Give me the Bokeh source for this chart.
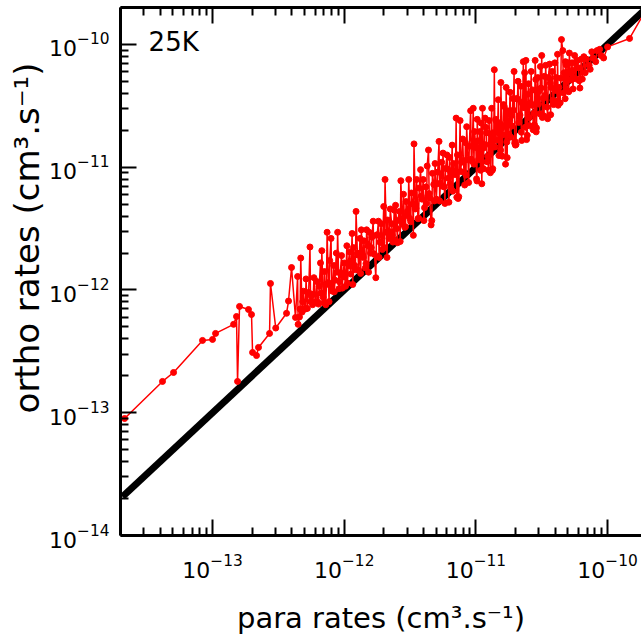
import numpy as np
from bokeh.plotting import figure
from bokeh.models import Range1d, FixedTicker, LogAxis, Label, Title, CustomJSTickFormatter
from bokeh.embed import file_html
from bokeh.resources import INLINE

# ---- data (log10 of rates) ----
para_sparse = [-13.668, -13.380, -13.296, -13.076, -13.000, -12.977, -12.840, -12.818,
               -12.810, -12.795, -12.727, -12.704, -12.696, -12.666, -12.651, -12.567,
               -12.560, -12.520, -12.438, -12.423, -12.400, -12.370, -12.354, -12.350]
ortho_sparse = [-13.047, -12.745, -12.672, -12.411, -12.403, -12.354, -12.280, -12.216,
                -12.745, -12.134, -12.159, -12.200, -12.509, -12.534, -12.468, -12.354,
                -11.947, -12.310, -12.190, -12.090, -11.817, -12.224, -11.890, -12.280]

para_a = [-12.34, -12.33, -12.32, -12.31, -12.30, -12.29, -12.28, -12.27, -12.26, -12.25,
          -12.24, -12.23, -12.22, -12.21, -12.20, -12.19, -12.18, -12.17, -12.16, -12.15,
          -12.14, -12.13, -12.12, -12.11, -12.10, -12.09, -12.08, -12.07, -12.06, -12.05,
          -12.04, -12.03, -12.02, -12.01, -12.00]
ortho_a = [-12.22, -11.74, -12.18, -12.01, -12.15, -11.91, -12.15, -12.02, -11.65, -12.05,
           -12.12, -11.90, -12.10, -11.93, -12.10, -11.97, -11.78, -11.68, -12.06, -11.85,
           -12.12, -11.53, -11.94, -11.76, -11.58, -12.01, -11.80, -11.92, -11.70, -11.53,
           -11.99, -11.86, -11.72, -11.89, -11.78]
para_a2 = [-12.335, -12.315, -12.295, -12.275, -12.255, -12.235, -12.215, -12.195, -12.175,
           -12.155, -12.135, -12.115, -12.095, -12.075, -12.055, -12.035, -12.015]
ortho_a2 = [-12.155, -12.095, -12.155, -12.025, -12.095, -12.035, -12.095, -12.115, -12.025,
            -12.105, -11.955, -12.095, -11.975, -12.015, -11.855, -11.935, -11.985]

para_b = [-11.99, -11.98, -11.97, -11.96, -11.95, -11.94, -11.93, -11.92, -11.91, -11.90,
          -11.89, -11.88, -11.87, -11.86, -11.85, -11.84, -11.83, -11.82, -11.81, -11.80,
          -11.79, -11.78, -11.77, -11.76, -11.75, -11.74, -11.73, -11.72, -11.71, -11.70,
          -11.69, -11.68, -11.67, -11.66, -11.65, -11.64, -11.63, -11.62, -11.61, -11.60,
          -11.595, -11.58, -11.57, -11.56, -11.55, -11.54, -11.53, -11.52, -11.51, -11.50]
ortho_b = [-11.97, -11.64, -11.79, -11.69, -11.87, -11.54, -11.655, -11.80, -11.36, -11.70,
           -11.84, -11.58, -11.51, -11.72, -11.60, -11.82, -11.51, -11.64, -11.53, -11.70,
           -11.57, -11.44, -11.71, -11.90, -11.55, -11.44, -11.61, -11.46, -11.67, -11.32,
           -11.10, -11.53, -11.43, -11.58, -11.34, -11.46, -11.61, -11.35, -11.31, -11.50,
           -11.615, -11.36, -11.11, -11.42, -11.22, -11.49, -11.28, -11.36, -11.10, -11.42]
para_b2 = [-11.995, -11.975, -11.955, -11.935, -11.915, -11.895, -11.875, -11.855, -11.835,
           -11.815, -11.795, -11.775, -11.755, -11.735, -11.715, -11.695, -11.675, -11.655,
           -11.635, -11.615, -11.595, -11.575, -11.555, -11.535, -11.515]
ortho_b2 = [-11.895, -11.945, -11.805, -11.955, -11.835, -11.715, -11.865, -11.735, -11.785,
            -11.855, -11.655, -11.705, -11.555, -11.735, -11.615, -11.655, -11.735, -11.525,
            -11.555, -11.595, -11.435, -11.605, -11.465, -11.485, -11.395]

para_c = [-11.49, -11.48, -11.47, -11.46, -11.45, -11.44, -11.43, -11.42, -11.41, -11.40,
          -11.39, -11.38, -11.37, -11.36, -11.35, -11.34, -11.33, -11.32, -11.31, -11.30,
          -11.29, -11.28, -11.27, -11.26, -11.25, -11.24, -11.23, -11.22, -11.21, -11.20,
          -11.19, -11.18, -11.17, -11.16, -11.15, -11.14, -11.13, -11.12, -11.11, -11.10,
          -11.09, -11.08, -11.07, -11.06, -11.05, -11.04, -11.03, -11.02, -11.01, -11.00]
ortho_c = [-11.21, -11.30, -10.81, -11.34, -11.10, -11.42, -11.17, -11.02, -11.26, -11.10,
           -11.33, -11.16, -10.99, -10.86, -11.25, -11.47, -11.05, -11.14, -10.97, -11.26,
           -11.04, -10.79, -11.13, -10.96, -10.885, -11.16, -11.01, -10.90, -11.09, -10.92,
           -11.17, -10.82, -10.97, -11.06, -10.60, -10.90, -11.24, -10.62, -10.96, -10.77,
           -11.04, -10.80, -10.67, -10.94, -10.83, -10.54, -10.95, -10.52, -10.71, -10.84]
para_c2 = [-11.495, -11.475, -11.455, -11.435, -11.415, -11.395, -11.375, -11.355, -11.335,
           -11.315, -11.295, -11.275, -11.255, -11.235, -11.215, -11.195, -11.175, -11.155,
           -11.135, -11.115, -11.095, -11.075, -11.055, -11.035, -11.015]
ortho_c2 = [-11.445, -11.555, -11.335, -11.415, -11.235, -11.435, -11.295, -11.215, -11.435,
            -11.275, -11.135, -11.275, -11.155, -11.295, -11.015, -11.135, -11.195, -11.035,
            -11.255, -11.035, -10.945, -11.065, -11.125, -10.935, -10.975]

para_d = [-10.99, -10.98, -10.97, -10.96, -10.95, -10.94, -10.93, -10.92, -10.91, -10.90,
          -10.89, -10.88, -10.87, -10.86, -10.85, -10.84, -10.83, -10.82, -10.81, -10.80,
          -10.79, -10.78, -10.77, -10.76, -10.75, -10.74, -10.73, -10.72, -10.71, -10.70,
          -10.69, -10.68, -10.67, -10.66, -10.65, -10.64, -10.63, -10.62, -10.61, -10.60,
          -10.59, -10.58, -10.57, -10.56, -10.55, -10.54, -10.53, -10.52, -10.51, -10.50]
ortho_d = [-10.61, -10.94, -10.71, -10.64, -10.52, -10.84, -10.60, -10.72, -10.91, -10.62,
           -11.045, -10.52, -10.72, -10.206, -10.61, -10.78, -10.45, -10.64, -10.31, -10.91,
           -10.49, -10.66, -10.35, -10.54, -10.73, -10.39, -10.58, -10.44, -10.22, -10.82,
           -10.44, -10.30, -10.59, -10.34, -10.47, -10.14, -10.23, -10.13, -10.74, -10.32,
           -10.49, -10.22, -10.37, -10.56, -10.13, -10.68, -10.27, -10.38, -10.18, -10.09]
para_d2 = [-10.995, -10.975, -10.955, -10.935, -10.915, -10.895, -10.875, -10.855, -10.835,
           -10.815, -10.795, -10.775, -10.755, -10.735, -10.715, -10.695, -10.675, -10.655,
           -10.635, -10.615, -10.595, -10.575, -10.555, -10.535, -10.515]
ortho_d2 = [-11.095, -10.925, -11.135, -10.815, -10.955, -10.815, -11.025, -10.835, -10.685,
            -10.895, -10.735, -10.975, -10.655, -10.755, -10.535, -10.815, -10.635, -10.715,
            -10.515, -10.775, -10.595, -10.495, -10.655, -10.395, -10.565]
para_d3 = [-10.985, -10.965, -10.945, -10.925, -10.905, -10.885, -10.865, -10.845, -10.825,
           -10.805, -10.785, -10.765, -10.745, -10.725, -10.705, -10.685, -10.665, -10.645,
           -10.625, -10.605, -10.585, -10.565, -10.545, -10.525, -10.505]
ortho_d3 = [-10.785, -11.025, -10.845, -10.675, -11.025, -10.735, -10.835, -10.625, -10.905,
            -10.685, -10.505, -10.795, -10.565, -10.665, -10.805, -10.445, -10.575, -10.485,
            -10.675, -10.405, -10.475, -10.695, -10.285, -10.485, -10.355]

para_e = [-10.49, -10.48, -10.47, -10.46, -10.45, -10.44, -10.43, -10.42, -10.41, -10.40,
          -10.39, -10.38, -10.37, -10.36, -10.35, -10.34, -10.33, -10.32, -10.31, -10.30,
          -10.29, -10.28, -10.27, -10.26, -10.25, -10.24, -10.23, -10.22, -10.21, -10.20]
ortho_e = [-10.44, -10.26, -10.17, -10.51, -10.27, -10.16, -10.35, -10.22, -10.49, -10.15,
           -10.27, -10.08, -10.35, -10.475, -9.96, -10.05, -10.23, -10.14, -10.37, -10.15,
           -10.07, -10.29, -10.15, -10.21, -10.09, -10.28, -10.13, -10.19, -10.355, -10.12]
para_e2 = [-10.495, -10.475, -10.455, -10.435, -10.415, -10.395, -10.375, -10.355, -10.335,
           -10.315, -10.295, -10.275, -10.255, -10.235, -10.215]
ortho_e2 = [-10.595, -10.415, -10.605, -10.315, -10.455, -10.375, -10.495, -10.275, -10.395,
            -10.165, -10.385, -10.235, -10.275, -10.135, -10.295]

# points lying just under the diagonal in the dense part
para_g = [-11.205, -11.145, -11.085, -10.992, -10.942, -10.872, -10.812, -10.762, -10.702,
          -10.652, -10.592, -10.542, -10.482, -10.432, -10.382, -10.322, -10.262, -10.192,
          -10.132]
ortho_g = [-11.285, -11.245, -11.145, -11.112, -11.012, -11.012, -10.862, -10.922, -10.792,
           -10.782, -10.662, -10.712, -10.582, -10.572, -10.462, -10.442, -10.362, -10.282,
           -10.202]

para_f = [-10.18, -10.17, -10.16, -10.14, -10.12, -10.11, -10.09, -10.08, -10.06, -10.05,
          -10.03, -10.00, -9.833, -9.71]
ortho_f = [-10.10, -10.23, -10.12, -10.17, -10.06, -10.11, -10.14, -10.05, -10.04, -10.09,
           -10.11, -10.02, -9.951, -9.72]

# reference line ortho = para
diag_para = [2.07e-14, 2.1e-10]
diag_ortho = [2.07e-14, 2.1e-10]

major_ticks = [1e-14, 1e-13, 1e-12, 1e-11, 1e-10]
minor_ticks = [m * 10.0 ** e for e in range(-15, -9) for m in range(2, 10)]

x_title = "para rates (cm³.s⁻¹)"
y_title = "ortho rates (cm³.s⁻¹)"
panel_label = "25K"

para_log = np.array(para_sparse + para_a + para_a2 + para_b + para_b2 + para_c + para_c2
                    + para_d + para_d2 + para_d3 + para_e + para_e2 + para_g + para_f)
ortho_log = np.array(ortho_sparse + ortho_a + ortho_a2 + ortho_b + ortho_b2 + ortho_c + ortho_c2
                     + ortho_d + ortho_d2 + ortho_d3 + ortho_e + ortho_e2 + ortho_g + ortho_f)
order = np.argsort(para_log, kind="stable")
para = 10 ** para_log[order]
ortho = 10 ** ortho_log[order]

FONT = "DejaVu Sans"

p = figure(width=641, height=640, x_axis_type="log", y_axis_type="log",
           x_range=Range1d(2e-14, 1.81e-10), y_range=Range1d(1e-14, 2.0e-10),
           output_backend="svg", toolbar_location=None,
           min_border_left=120, min_border_right=0, min_border_top=7, min_border_bottom=105)
p.outline_line_color = None
p.xgrid.visible = False
p.ygrid.visible = False
p.background_fill_color = "white"
p.border_fill_color = "white"

def style_axis(ax):
    ax.ticker = FixedTicker(ticks=major_ticks, minor_ticks=minor_ticks)
    ax.axis_line_width = 3
    ax.axis_line_color = "black"
    ax.major_tick_in = 16
    ax.major_tick_out = 0
    ax.minor_tick_in = 8
    ax.minor_tick_out = 0
    ax.major_tick_line_width = 2
    ax.minor_tick_line_width = 2
    ax.major_tick_line_color = "black"
    ax.minor_tick_line_color = "black"
    ax.major_label_text_font = FONT
    ax.major_label_text_font_size = "22px"
    ax.major_label_text_color = "black"
    ax.axis_label_text_font = FONT
    ax.axis_label_text_font_style = "normal"
    ax.axis_label_text_color = "black"

style_axis(p.xaxis[0])
style_axis(p.yaxis[0])
p.xaxis[0].major_label_standoff = 18
p.yaxis[0].major_label_standoff = 11
p.xaxis[0].axis_label = x_title
p.xaxis[0].axis_label_text_font_size = "29px"
p.xaxis[0].axis_label_standoff = 20

# y title: placed left of the axis, its top end 55px below the frame top
p.add_layout(Title(text=y_title, align="right", offset=55, standoff=0,
                   text_font=FONT, text_font_size="34px", text_font_style="normal",
                   text_color="black"), "left")

top = LogAxis()
style_axis(top)
top.formatter = CustomJSTickFormatter(code="return ''")
top.major_label_text_font_size = "1px"
top.major_label_standoff = 0
p.add_layout(top, "above")

p.line(diag_para, diag_ortho, line_width=7, color="black")
p.line(para, ortho, line_width=1.5, color="red")
p.scatter(para, ortho, size=6, color="red")

p.add_layout(Label(x=3.27e-14, y=1.04e-10, text=panel_label, text_font=FONT,
                   text_font_size="26px", text_baseline="middle", text_color="black"))

open("out.html", "w").write(file_html(p, INLINE))
